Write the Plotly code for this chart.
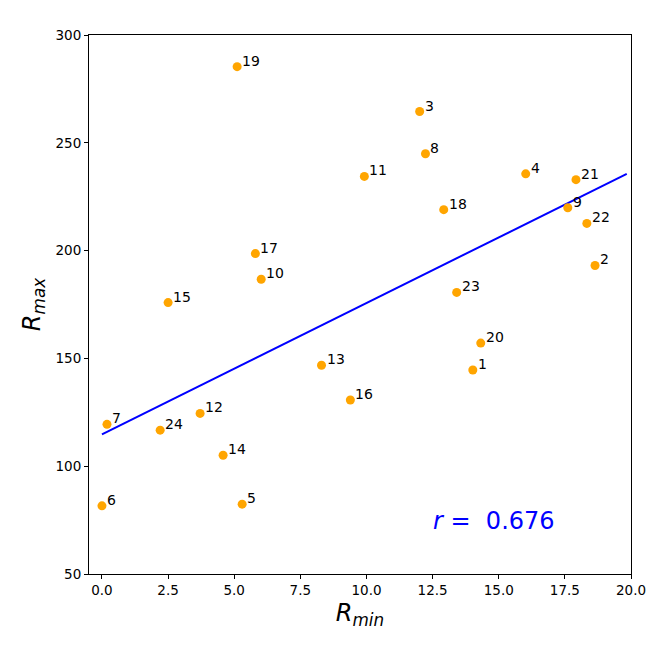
import plotly.graph_objects as go

# values
point_ids = [str(i) for i in range(1, 25)]
r_min = [14.02, 18.64, 12.01, 16.02, 5.30, 0.00, 0.19, 12.23, 17.61, 6.02, 9.92, 3.71,
         8.30, 4.58, 2.50, 9.39, 5.80, 12.92, 5.11, 14.32, 17.92, 18.33, 13.41, 2.20]
r_max = [144.6, 193.1, 264.5, 235.6, 82.4, 81.6, 119.4, 244.9, 219.9, 186.7, 234.4, 124.5,
         146.8, 105.1, 175.9, 130.7, 198.6, 219.0, 285.3, 157.1, 232.9, 212.6, 180.6, 116.7]

# regression line end points
fit_x = [0.0, 19.84]
fit_y = [114.8, 235.6]
r_value = 0.676

font = "DejaVu Sans"

fig = go.Figure()
fig.add_trace(
    go.Scatter(
        x=fit_x,
        y=fit_y,
        mode="lines",
        line=dict(color="#0000ff", width=2),
        showlegend=False,
    )
)
fig.add_trace(
    go.Scatter(
        x=r_min,
        y=r_max,
        mode="markers",
        marker=dict(color="#ffa500", size=9, line=dict(width=0)),
        showlegend=False,
    )
)

# number next to each point
for px, py, label in zip(r_min, r_max, point_ids):
    fig.add_annotation(
        x=px,
        y=py,
        text=label,
        showarrow=False,
        xanchor="left",
        yanchor="middle",
        xshift=3,
        yshift=6,
        font=dict(family=font, size=14, color="black"),
    )

fig.add_annotation(
    x=14.82,
    y=74.7,
    text=f"<i>r</i> = \u00a0{r_value:.3f}",
    showarrow=False,
    xanchor="center",
    yanchor="middle",
    font=dict(family=font, size=24, color="#0000ff"),
)

axis_common = dict(
    showgrid=False,
    zeroline=False,
    showline=True,
    mirror=True,
    linecolor="black",
    linewidth=1,
    ticks="outside",
    ticklen=4,
    tickwidth=1,
    tickcolor="black",
    tickfont=dict(family=font, size=13.5, color="black"),
)

fig.update_xaxes(
    range=[-0.49, 20],
    tickvals=[0, 2.5, 5, 7.5, 10, 12.5, 15, 17.5, 20],
    ticktext=["0.0", "2.5", "5.0", "7.5", "10.0", "12.5", "15.0", "17.5", "20.0"],
    title=dict(text="<i>R<sub>min</sub></i>", font=dict(family=font, size=24, color="black"), standoff=6),
    **axis_common,
)
fig.update_yaxes(
    range=[50, 300],
    tickvals=[50, 100, 150, 200, 250, 300],
    title=dict(text="<i>R<sub>max</sub></i>", font=dict(family=font, size=24, color="black"), standoff=8),
    **axis_common,
)

# page body adds ~7px offset, so margins are shifted to compensate
fig.update_layout(
    width=670,
    height=650,
    margin=dict(l=81, r=47, t=27, b=84),
    plot_bgcolor="white",
    paper_bgcolor="white",
    font=dict(family=font),
)

fig.write_html("out.html")
